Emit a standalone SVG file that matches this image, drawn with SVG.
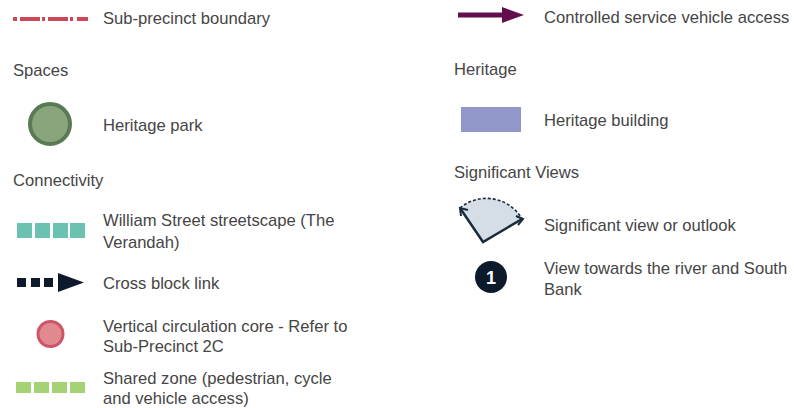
<svg xmlns="http://www.w3.org/2000/svg" width="794" height="408" viewBox="0 0 794 408">
<style>
.t{font-family:"Liberation Sans",Arial,sans-serif;font-size:16.6px;fill:#454545}
.teal{fill:#6cc2b1}
.green{fill:#a5d275}
.navy{fill:#0d1a2b}
</style>
<rect width="794" height="408" fill="#ffffff"/>
<g id="connectors">
<g id="sub-precinct-boundary">
<path d="M13 19H17M20 19H40M42 19H45M48 19H68M70 19H73M77 19H88" stroke="#cc4a57" stroke-width="4" fill="none"/>
<text class="t" x="103" y="24">Sub-precinct boundary</text>
</g>
<g id="service-vehicle-access">
<path d="M458 15H503" stroke="#620d4e" stroke-width="5"/>
<polygon points="502,7 524,15 502,23" fill="#620d4e"/>
<text class="t" x="544" y="23">Controlled service vehicle access</text>
</g>
</g>
<text class="t" x="13" y="76">Spaces</text>
<text class="t" x="454" y="75">Heritage</text>
<g id="heritage-park">
<circle cx="50" cy="124" r="20" fill="#8aa57b" stroke="#5a7a55" stroke-width="4"/>
<text class="t" x="103" y="131">Heritage park</text>
</g>
<g id="heritage-building">
<rect x="461" y="107" width="60" height="25" fill="#9197c8"/>
<text class="t" x="544" y="126">Heritage building</text>
</g>
<text class="t" x="13" y="186">Connectivity</text>
<text class="t" x="454" y="178">Significant Views</text>
<g id="william-street">
<rect class="teal" x="17" y="223" width="15" height="15"/>
<rect class="teal" x="35" y="223" width="15" height="15"/>
<rect class="teal" x="53" y="223" width="15" height="15"/>
<rect class="teal" x="70" y="223" width="15" height="15"/>
<text class="t" x="103" y="226">William Street streetscape (The</text>
<text class="t" x="103" y="248">Verandah)</text>
</g>
<g id="significant-view">
<path d="M483 242L460 208A41 41 0 0 1 522 219Z" fill="#d5dde6"/>
<path d="M522 219L483 242L460 208" fill="none" stroke="#1a2b3c" stroke-width="2.5" stroke-linejoin="miter"/>
<path d="M460 208A41 41 0 0 1 522 219" fill="none" stroke="#1a2b3c" stroke-width="1.6" stroke-dasharray="3 2"/>
<path d="M461 216L460 208L468 210" fill="none" stroke="#1a2b3c" stroke-width="2"/>
<path d="M516 216L523 219L518 225" fill="none" stroke="#1a2b3c" stroke-width="2"/>
<text class="t" x="544" y="231">Significant view or outlook</text>
</g>
<g id="view-river">
<circle cx="491" cy="277" r="16" class="navy"/>
<text x="491" y="283.5" text-anchor="middle" style="font-family:'Liberation Sans',Arial,sans-serif;font-size:18px;font-weight:bold;fill:#ffffff">1</text>
<text class="t" x="544" y="274">View towards the river and South</text>
<text class="t" x="544" y="295">Bank</text>
</g>
<g id="cross-block-link">
<rect class="navy" x="17" y="278" width="9" height="9"/>
<rect class="navy" x="31" y="278" width="9" height="9"/>
<rect class="navy" x="44" y="278" width="9" height="9"/>
<polygon class="navy" points="58,273 84,282.5 58,292"/>
<text class="t" x="103" y="289">Cross block link</text>
</g>
<g id="vertical-circulation">
<circle cx="50.5" cy="334" r="12.5" fill="#e08a8f" stroke="#cc5567" stroke-width="3"/>
<text class="t" x="103" y="332">Vertical circulation core - Refer to</text>
<text class="t" x="103" y="352">Sub-Precinct 2C</text>
</g>
<g id="shared-zone">
<rect class="green" x="16" y="382" width="15" height="11"/>
<rect class="green" x="34" y="382" width="15" height="11"/>
<rect class="green" x="52" y="382" width="15" height="11"/>
<rect class="green" x="70" y="382" width="15" height="11"/>
<text class="t" x="103" y="384">Shared zone (pedestrian, cycle</text>
<text class="t" x="103" y="404">and vehicle access)</text>
</g>
</svg>
